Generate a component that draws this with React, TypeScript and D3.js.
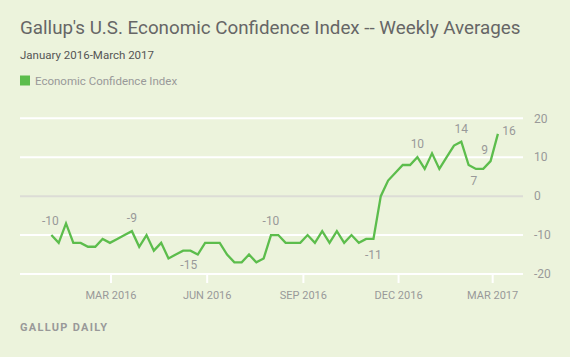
import React from "react";
import * as d3 from "d3";

const weeks: string[] = [
  "2016-01-04","2016-01-11","2016-01-18","2016-01-25","2016-02-01","2016-02-08","2016-02-15","2016-02-22","2016-02-29",
  "2016-03-07","2016-03-14","2016-03-21","2016-03-28","2016-04-04","2016-04-11","2016-04-18","2016-04-25",
  "2016-05-02","2016-05-09","2016-05-16","2016-05-23","2016-05-30","2016-06-06","2016-06-13","2016-06-20","2016-06-27",
  "2016-07-04","2016-07-11","2016-07-18","2016-07-25","2016-08-01","2016-08-08","2016-08-15","2016-08-22","2016-08-29",
  "2016-09-05","2016-09-12","2016-09-19","2016-09-26","2016-10-03","2016-10-10","2016-10-17","2016-10-24","2016-10-31",
  "2016-11-07","2016-11-14","2016-11-21","2016-11-28","2016-12-05","2016-12-12","2016-12-19","2016-12-26",
  "2017-01-02","2017-01-09","2017-01-16","2017-01-23","2017-01-30","2017-02-06","2017-02-13","2017-02-20","2017-02-27",
  "2017-03-06",
];

const values: number[] = [
  -10, -12, -7, -12, -12, -13, -13, -11, -12,
  -11, -10, -9, -13, -10, -14, -12, -16,
  -15, -14, -14, -15, -12, -12, -12, -15, -17,
  -17, -15, -17, -16, -10, -10, -12, -12, -12,
  -10, -12, -9, -12, -9, -12, -10, -12, -11,
  -11, 0, 4, 6, 8, 8, 10, 7, 11, 7,
  10, 13, 14, 8, 7, 7, 9, 16,
];

const labeledIndices: number[] = [0, 11, 20, 30, 44, 50, 56, 58, 60, 61];

const xTickDates: string[] = ["2016-03-01", "2016-06-01", "2016-09-01", "2016-12-01", "2017-03-01"];
const xTickLabels: string[] = ["MAR 2016", "JUN 2016", "SEP 2016", "DEC 2016", "MAR 2017"];
const yTicks: number[] = [-20, -10, 0, 10, 20];

const titleText = "Gallup's U.S. Economic Confidence Index -- Weekly Averages";
const subtitleText = "January 2016-March 2017";
const legendText = "Economic Confidence Index";
const footerText = "GALLUP DAILY";

// layout (not data)
const labelOffsets: Record<number, [number, number]> = {
  0: [-1, -10],
  11: [0, -9],
  20: [-9, 14],
  30: [0, -10],
  44: [0, 20],
  50: [0, -9],
  56: [0, -9],
  58: [-2, 16],
  60: [-6, -7],
  61: [11, 1],
};

const W = 570;
const H = 357;
const FONT = "Roboto, 'Open Sans', sans-serif";
const BG = "#ecf3dc";
const GREEN = "#5cbd4c";

export default function App() {
  const parse = d3.timeParse("%Y-%m-%d");
  const dates = weeks.map((w) => parse(w) as Date);
  const x = d3
    .scaleTime()
    .domain([parse("2015-12-05") as Date, parse("2017-03-30") as Date])
    .range([20, 523]);
  const y = d3.scaleLinear().domain([-20, 20]).range([274, 118.3]);

  const line = d3
    .line<number>()
    .x((_, i) => x(dates[i]))
    .y((d) => y(d));

  const [x0, x1] = x.range();

  return (
    <div style={{ position: "fixed", left: 0, top: 0 }}>
      <svg width={W} height={H} style={{ display: "block", background: BG }} fontFamily={FONT}>
        <rect x={0} y={0} width={W} height={H} fill={BG} />
        <text x={20} y={34} fontSize={18.8} fill="#666">{titleText}</text>
        <text x={20} y={58.5} fontSize={11.5} fill="#555">{subtitleText}</text>
        <rect x={20} y={75.5} width={10} height={10} fill={GREEN} />
        <text x={35} y={84.5} fontSize={11.5} fill="#999">{legendText}</text>

        {yTicks.map((t) => (
          <line
            key={"g" + t}
            x1={x0}
            x2={x1}
            y1={y(t)}
            y2={y(t)}
            stroke={t === 0 ? "#dcdcd6" : "#ffffff"}
            strokeWidth={2}
          />
        ))}
        {yTicks.map((t) => (
          <text key={"yl" + t} x={534} y={y(t)} dy="0.35em" fontSize={12} fill="#999">
            {t}
          </text>
        ))}
        {xTickDates.map((d, i) => {
          const xp = x(parse(d) as Date);
          return (
            <g key={"xt" + d}>
              <line x1={xp} x2={xp} y1={274} y2={283} stroke="#ffffff" strokeWidth={2} />
              <text x={xp} y={299} textAnchor="middle" fontSize={11} fill="#999">
                {xTickLabels[i]}
              </text>
            </g>
          );
        })}

        <path d={line(values) || ""} fill="none" stroke={GREEN} strokeWidth={2.3} strokeLinejoin="miter" />

        {labeledIndices.map((idx) => {
          const [dx, dy] = labelOffsets[idx];
          return (
            <text
              key={"lab" + idx}
              x={x(dates[idx]) + dx}
              y={y(values[idx]) + dy}
              textAnchor="middle"
              fontSize={12}
              fill="#999"
            >
              {values[idx]}
            </text>
          );
        })}

        <text x={20} y={331} fontSize={11} fontWeight="bold" letterSpacing={1.3} fill="#999">
          {footerText}
        </text>
      </svg>
    </div>
  );
}
